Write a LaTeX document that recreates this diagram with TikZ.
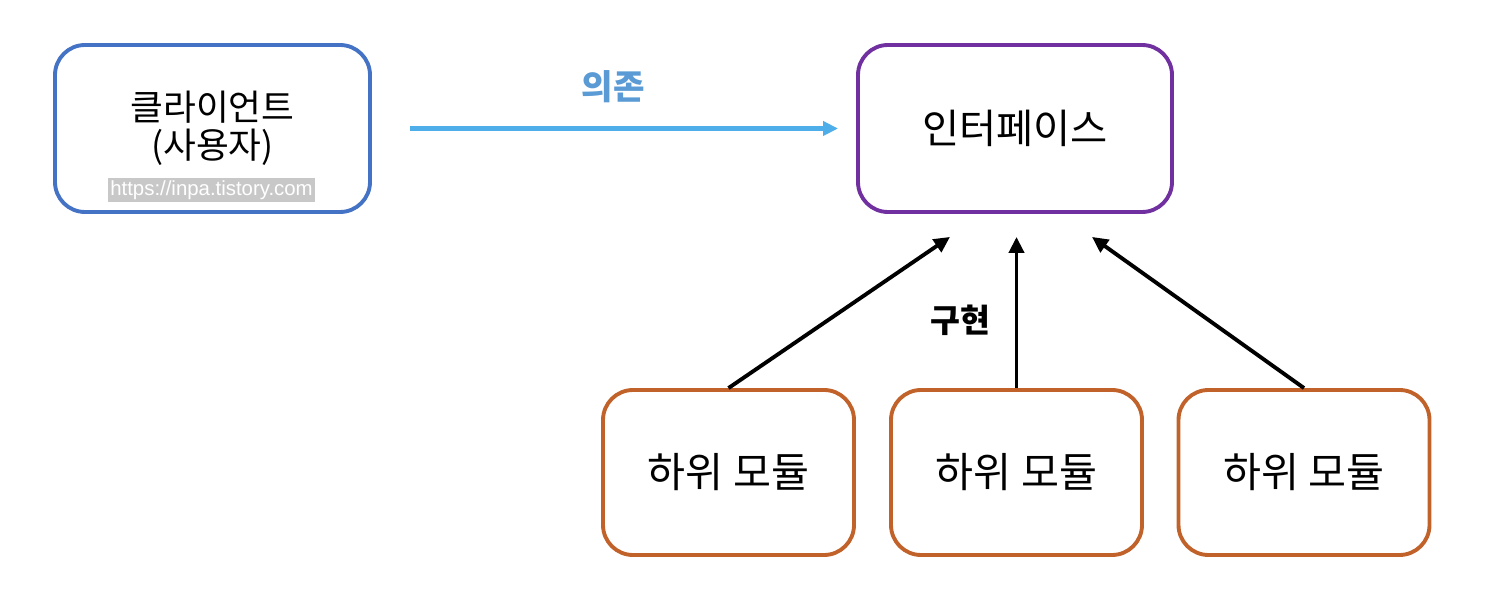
\documentclass[tikz,border=0pt]{standalone}
\usepackage{fontspec}
\newfontfamily\kr{Noto Sans CJK KR}
\newfontfamily\wmfont{Liberation Sans}
\usetikzlibrary{arrows.meta}

\definecolor{clientblue}{HTML}{4472C4}
\definecolor{ifacepurple}{HTML}{7030A0}
\definecolor{modorange}{HTML}{C0622A}
\definecolor{deparrow}{HTML}{4DAEEA}
\definecolor{deptext}{HTML}{5B9BD5}
\definecolor{wmgray}{HTML}{C8C8C8}

\begin{document}
\begin{tikzpicture}[x=0.02cm, y=-0.02cm,
	box/.style={draw, rounded corners=0.6cm, line width=2.2pt, fill=white, align=center, font=\kr},
	modbox/.style={box, draw=modorange, minimum width=251*0.02cm, minimum height=165*0.02cm, font=\kr\fontsize{23.5}{27}\selectfont},
	impl/.style={-{Triangle[length=0.32cm, width=0.3cm]}, line width=2.2pt}]
		\useasboundingbox (0,0) rectangle (1494,590);

		% Draw the client and the interface
		\node[box, draw=clientblue, minimum width=315*0.02cm, minimum height=167*0.02cm,
			font=\kr\fontsize{20.3}{21.5}\selectfont] (client) at (212.5,128.5) {클라이언트\\(사용자)};
		\node[fill=wmgray, text=white, inner sep=1.2pt, font=\wmfont\fontsize{11.6}{13}\selectfont] (wm) at (211.5,190) {https://inpa.tistory.com};
		\node[box, draw=ifacepurple, minimum width=314*0.02cm, minimum height=167*0.02cm,
			font=\kr\fontsize{23}{27}\selectfont] (iface) at (1015,128.5) {인터페이스};

		% Draw the dependency arrow
		\draw[-{Triangle[length=0.3cm, width=0.28cm]}, deparrow, line width=2.4pt, shorten <=0.76cm, shorten >=0.36cm]
			(client.east) -- (iface.west);
		\node[text=deptext, font=\kr\bfseries\fontsize{19.5}{22}\selectfont] (dep) at (613,87) {의존};

		% Draw the sub modules
		\node[modbox] (m1) at (728.5,472.5) {하위 모듈};
		\node[modbox] (m2) at (1016.5,472.5) {하위 모듈};
		\node[modbox] (m3) at (1304,472.5) {하위 모듈};

		% Draw the arrows up to the interface
		\draw[impl] (m1.north) -- ([xshift=-1.3cm, yshift=-0.46cm]iface.south);
		\draw[impl] (m2.north) -- ([yshift=-0.46cm]m2.north |- iface.south);
		\draw[impl] (m3.north) -- ([xshift=1.54cm, yshift=-0.46cm]iface.south);
		\node[font=\kr\bfseries\fontsize{18.5}{21}\selectfont] (impltext) at (960,320) {구현};

	\end{tikzpicture}
\end{document}
